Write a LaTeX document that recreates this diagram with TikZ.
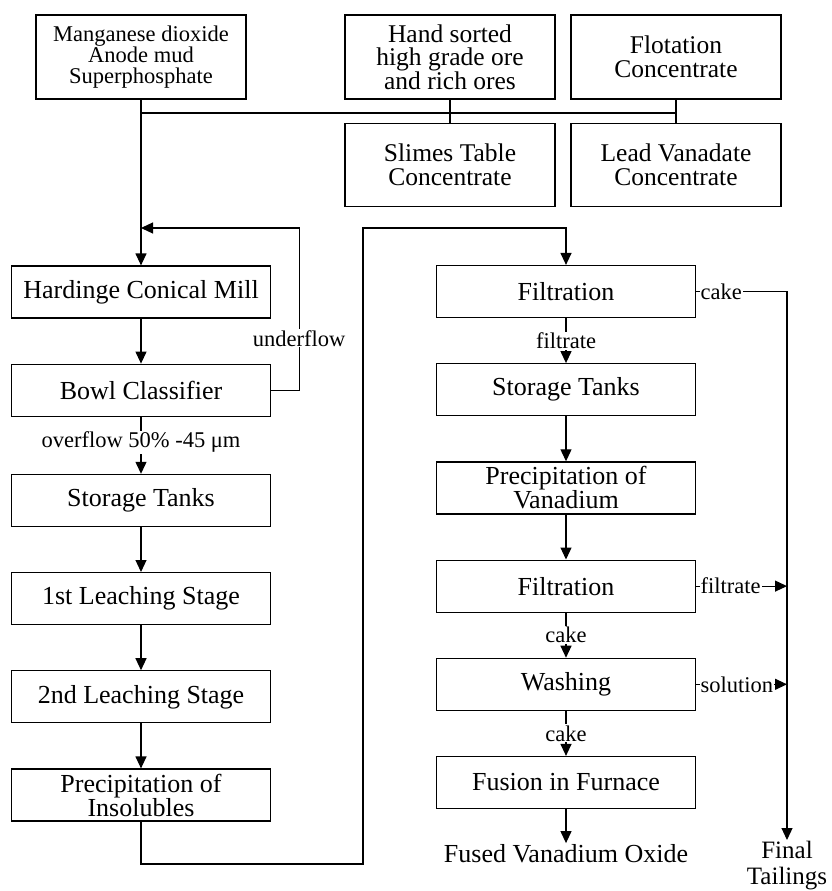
\documentclass[tikz,border=0pt]{standalone}
\usepackage{fontspec}
\setmainfont{Liberation Serif}
\usetikzlibrary{arrows.meta,positioning}

\tikzset{
  proc/.style={rectangle, draw, line width=1.2pt, minimum width=259pt, minimum height=52pt, align=center, inner sep=3pt, font=\fontsize{26}{24}\selectfont},
  feed/.style={rectangle, draw, line width=1.2pt, minimum width=210pt, minimum height=84pt, align=center, font=\fontsize{25.5}{23.5}\selectfont},
  flow/.style={line width=1.2pt},
  lbl/.style={fill=white, inner sep=1pt, font=\fontsize{22.5}{23}\selectfont},
}

\begin{document}
\begin{tikzpicture}[x=1pt, y=-1pt, node distance=45pt, >={Triangle[length=12pt,width=11pt]}]
    \useasboundingbox (0,0) rectangle (832,891);

    % raw materials
    \node[feed, font=\fontsize{22.5}{21}\selectfont] (mno) at (141,57) {Manganese dioxide\\Anode mud\\Superphosphate};
    \node[feed] (hand) at (450,57) {Hand sorted\\high grade ore\\and rich ores};
    \node[feed] (flot) at (676,57) {Flotation\\Concentrate};
    \node[feed, minimum height=83pt] (slimes) at (450,165) {Slimes Table\\Concentrate};
    \node[feed, minimum height=83pt] (lead) at (676,165) {Lead Vanadate\\Concentrate};

    % grinding and leaching
    \node[proc] (mill) at (141,292) {Hardinge Conical Mill};
    \node[proc, below=of mill] (cls) {Bowl Classifier};
    \node[proc, below=57pt of cls] (tank1) {Storage Tanks};
    \node[proc, below=of tank1] (leach1) {1st Leaching Stage};
    \node[proc, below=of leach1] (leach2) {2nd Leaching Stage};
    \node[proc, below=of leach2] (insol) {Precipitation of\\Insolubles};

    % vanadium recovery
    \node[proc] (filt1) at (566,291.5) {Filtration};
    \node[proc, below=of filt1] (tank2) {Storage Tanks};
    \node[proc, below=of tank2] (vprec) {Precipitation of\\Vanadium};
    \node[proc, below=of vprec] (filt2) {Filtration};
    \node[proc, below=of filt2] (wash) {Washing};
    \node[proc, below=of wash] (fuse) {Fusion in Furnace};
    \node[below=34pt of fuse, inner sep=1pt, font=\fontsize{26}{24}\selectfont] (oxide) {Fused Vanadium Oxide};
    \node[anchor=north, align=center, inner sep=1pt, font=\fontsize{25}{26}\selectfont] (tail) at (787,840) {Final\\Tailings};

    \coordinate (bus) at (0,113);
    \coordinate (ret) at (141,228);
    \coordinate (low) at (363,864);
    \coordinate (high) at (363,228);

    % feed lines
    \draw[flow] (mno.south |- bus) -- (flot.south |- bus);
    \draw[flow] (hand) -- (slimes);
    \draw[flow] (flot) -- (lead);
    \draw[flow,->] (mno) -- (mill);
    \draw[flow,->] (cls.east) -- ++(28,0) |- node[lbl, pos=0.16]{underflow} (ret);
    \draw[flow,->] (cls) -- node[lbl, pos=0.45]{overflow 50\% -45 μm} (tank1);

    \foreach \a/\b in {mill/cls, tank1/leach1, leach1/leach2, leach2/insol, tank2/vprec, vprec/filt2, fuse/oxide}
        \draw[flow,->] (\a) -- (\b);

    \draw[flow,->] (insol) |- (low) -- (high) -| (filt1);
    \draw[flow,->] (filt1) -- node[lbl]{filtrate} (tank2);
    \draw[flow,->] (filt2) -- node[lbl]{cake} (wash);
    \draw[flow,->] (wash) -- node[lbl]{cake} (fuse);

    % tailings
    \draw[flow,->] (filt1.east) -- node[lbl, pos=0, anchor=west, xshift=3pt]{cake} (filt1.east -| tail) -- (tail);
    \draw[flow,->] (filt2.east) -- node[lbl, pos=0, anchor=west, xshift=3pt]{filtrate} (filt2.east -| tail);
    \draw[flow,->] (wash.east) -- node[lbl, pos=0, anchor=west, xshift=3pt]{solution} (wash.east -| tail);
\end{tikzpicture}
\end{document}
